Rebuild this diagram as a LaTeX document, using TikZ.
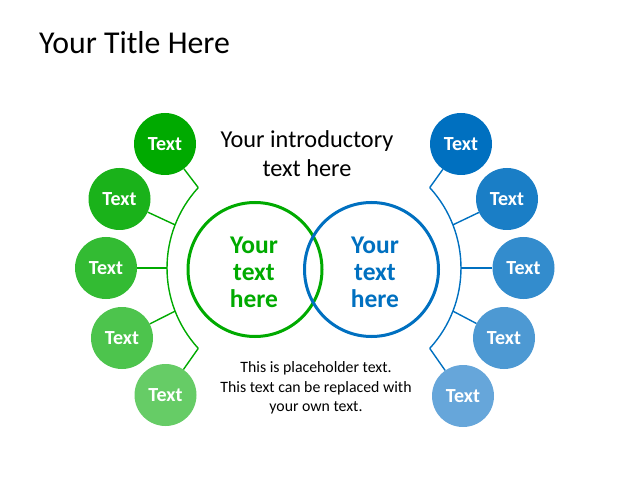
\documentclass[tikz,border=0pt]{standalone}
\usepackage{fontspec}
\setmainfont{Carlito}
\usetikzlibrary{calc}
\definecolor{gA}{RGB}{0,170,0}
\definecolor{gB}{RGB}{26,178,26}
\definecolor{gC}{RGB}{51,187,51}
\definecolor{gD}{RGB}{77,196,77}
\definecolor{gE}{RGB}{102,204,102}
\definecolor{bA}{RGB}{0,112,192}
\definecolor{bB}{RGB}{26,126,198}
\definecolor{bC}{RGB}{51,140,205}
\definecolor{bD}{RGB}{77,153,211}
\definecolor{bE}{RGB}{102,166,218}
\definecolor{gMain}{RGB}{0,170,0}
\definecolor{bMain}{RGB}{0,112,192}
\tikzset{
  small/.style={circle, minimum size=62pt, inner sep=0pt, text=white, font=\fontsize{20}{21}\selectfont\bfseries},
  big/.style={circle, minimum size=134pt, inner sep=0pt, line width=3pt, align=center, font=\fontsize{25.5}{27}\selectfont\bfseries},
  spokeG/.style={draw=gMain, line width=1.4pt},
  spokeB/.style={draw=bMain, line width=1.4pt},
}
\begin{document}
\begin{tikzpicture}[x=1pt,y=1pt]
\useasboundingbox (0,0) rectangle (640,480);
\node[anchor=base west, inner sep=0pt, font=\fontsize{31.8}{33}\selectfont] (title) at (39,426) {Your Title Here};
\node[align=center, inner sep=0pt, font=\fontsize{24.3}{29}\selectfont] (intro) at (307,326) {Your introductory\\text here};
\node[align=center, inner sep=0pt, font=\fontsize{15.8}{19.5}\selectfont] (ph) at (316,92) {This is placeholder text.\\This text can be replaced with\\your own text.};
% big circles
\node[big, draw=gMain, text=gMain] (gc) at (255,210.5) {};
\node[big, draw=bMain, text=bMain] (bc) at (371.5,210.5) {};
\node[align=center, inner sep=0pt, text=gMain, font=\fontsize{25.5}{27}\selectfont\bfseries] (gt) at (254,208) {Your\\text\\here};
\node[align=center, inner sep=0pt, text=bMain, font=\fontsize{25.5}{27}\selectfont\bfseries] (bt) at (375,208) {Your\\text\\here};
% arc centres
\coordinate (CL) at (286,212);
\coordinate (CR) at (342,212);
\foreach \i/\a in {1/137.5,2/158.75,3/180,4/201.25,5/222.5}{
  \coordinate (pl\i) at ($(CL)+(\a:119)$);
}
\foreach \i/\a in {1/42.5,2/21.25,3/0,4/-21.25,5/-42.5}{
  \coordinate (pr\i) at ($(CR)+(\a:119)$);
}
\draw[spokeG] (pl1) arc[start angle=137.5, end angle=222.5, radius=119];
\draw[spokeB] (pr1) arc[start angle=42.5, end angle=-42.5, radius=119];
% small circles
\node[small, fill=gA] (g1) at (165,336) {Text};
\node[small, fill=gB] (g2) at (119.5,281) {Text};
\node[small, fill=gC] (g3) at (106,212) {Text};
\node[small, fill=gD] (g4) at (122,142) {Text};
\node[small, fill=gE] (g5) at (165.5,85) {Text};
\node[small, fill=bA] (b1) at (461,336) {Text};
\node[small, fill=bB] (b2) at (507,281) {Text};
\node[small, fill=bC] (b3) at (523.5,212) {Text};
\node[small, fill=bD] (b4) at (504,142) {Text};
\node[small, fill=bE] (b5) at (463,84) {Text};
\foreach \i in {1,...,5}{
  \draw[spokeG] (g\i) -- (pl\i);
  \draw[spokeB] (b\i) -- (pr\i);
}
\end{tikzpicture}
\end{document}
